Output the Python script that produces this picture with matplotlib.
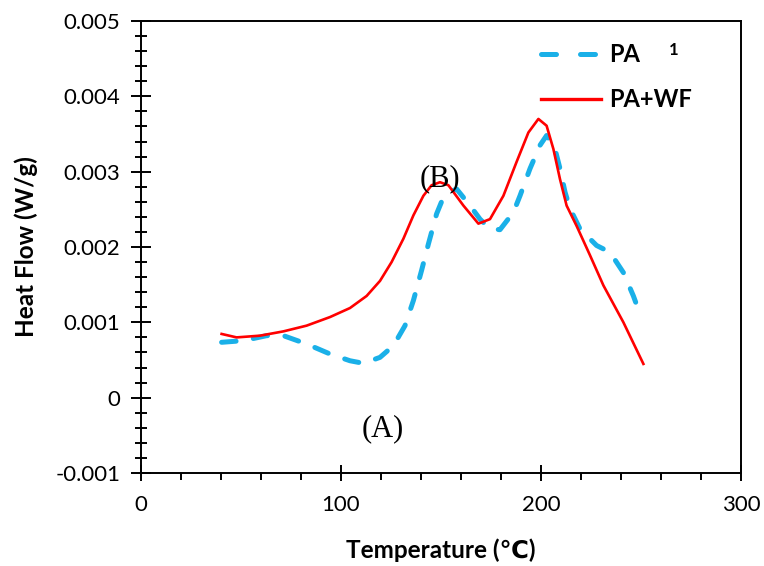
import matplotlib
matplotlib.use("Agg")
import matplotlib.pyplot as plt
from matplotlib.lines import Line2D
from matplotlib.ticker import MultipleLocator, FixedLocator

# PA (dashed blue)
pa_T = [40.3, 51.2, 62.8, 71.2, 82.8, 94.5, 104.5, 111.2, 119.5, 126.2, 132, 136.2, 140.3,
        143.7, 147.8, 151.2, 156.2, 157.8, 164.5, 169.5, 174.5, 179.5, 186.2, 189.5, 194.5,
        199.5, 202.8, 207, 209.5, 212, 214.5, 219.5, 227.8, 234.5, 241.2, 246.2, 249.5]
pa_H = [0.000735, 0.000757, 0.000823, 0.000823, 0.000713, 0.00058, 0.00049, 0.000456,
        0.000535, 0.00069, 0.000956, 0.00129, 0.00169, 0.00204, 0.00244, 0.00266, 0.00275,
        0.00277, 0.00255, 0.00237, 0.00224, 0.00223, 0.00246, 0.00268, 0.00304, 0.00335,
        0.00348, 0.00330, 0.00304, 0.00273, 0.00251, 0.00224, 0.00202, 0.00193, 0.00166,
        0.00135, 0.00111]

# PA+WF (solid red)
wf_T = [40.3, 47.8, 59.5, 71.2, 82.8, 94.5, 104.5, 112.8, 119.5, 125.3, 131.2, 136.2, 141.2,
        145.3, 149.5, 153.7, 158.7, 161.2, 168.7, 174.5, 181.2, 187.8, 193.7, 198.7, 202.8,
        206.2, 209.5, 212.8, 217.8, 224.5, 231.2, 241.2, 251.2]
wf_H = [0.000846, 0.00080, 0.000823, 0.00088, 0.000956, 0.00107, 0.00119, 0.00135, 0.00155,
        0.00180, 0.00211, 0.00242, 0.00268, 0.00282, 0.00286, 0.00282, 0.00264, 0.00255,
        0.00231, 0.00237, 0.00268, 0.00313, 0.00352, 0.00370, 0.00361, 0.00330, 0.00290,
        0.00255, 0.00228, 0.00189, 0.00149, 0.00100, 0.000448]

series_labels = ['PA', 'PA+WF']
x_ticks = [0, 100, 200, 300]
y_ticks = [-0.001, 0, 0.001, 0.002, 0.003, 0.004, 0.005]
y_tick_labels = ["-0.001", "0", "0.001", "0.002", "0.003", "0.004", "0.005"]

BLUE = '#1ab0e8'
RED = '#ff0000'

plt.rcParams['font.family'] = ['Lato', 'DejaVu Sans']

fig = plt.figure(figsize=(7.64, 5.66), dpi=100)
ax = fig.add_axes([141/764, 93/566, 600/764, 452/566])

ax.plot(pa_T, pa_H, color=BLUE, lw=3.6, linestyle=(0, (2.9, 3.5)),
        dash_capstyle='round', solid_joinstyle='round')
ax.plot(wf_T, wf_H, color=RED, lw=1.9, solid_joinstyle='round')

ax.set_xlim(0, 300)
ax.set_ylim(-0.001, 0.005)
ax.xaxis.set_major_locator(FixedLocator(x_ticks))
ax.xaxis.set_minor_locator(MultipleLocator(20))
ax.yaxis.set_major_locator(FixedLocator(y_ticks))
ax.set_yticklabels(y_tick_labels)
ax.yaxis.set_minor_locator(MultipleLocator(0.0002))

for s in ax.spines.values():
    s.set_linewidth(1.4)
    s.set_color('black')

ax.tick_params(axis='both', which='major', direction='inout', length=12, width=1.4,
               labelsize=16, pad=6, colors='black')
ax.tick_params(axis='x', which='minor', direction='out', length=5, width=1.4)
ax.tick_params(axis='y', which='minor', direction='inout', length=9, width=1.4)
ax.tick_params(axis='y', which='major', length=14, pad=8)
ax.tick_params(axis='x', which='major', pad=10)

ax.set_xlabel('Temperature (℃)', fontsize=17.5, fontweight='bold', labelpad=17)
ax.set_ylabel('Heat Flow (W/g)', fontsize=17.5, fontweight='bold', labelpad=12)

h_pa = Line2D([], [], color=BLUE, lw=3.6, linestyle=(0, (3.0, 4.8)), dash_capstyle='round')
h_wf = Line2D([], [], color=RED, lw=2.4)
leg = ax.legend([h_pa, h_wf], series_labels, loc='upper left',
                bbox_to_anchor=(541/764, 1 - 43/566),
                bbox_transform=fig.transFigure, frameon=False,
                prop={'weight': 'bold', 'size': 17}, handlelength=2.55,
                handletextpad=0.35, labelspacing=0.95, borderaxespad=0, borderpad=0)

fig.text(674/764, 1 - 50/566, '1', fontsize=12, fontweight='bold', ha='center', va='center')

ax.text(149.5, 0.00291, '(B)', fontfamily='Liberation Serif', fontsize=22,
        ha='center', va='center')
ax.text(121, -0.00041, '(A)', fontfamily='Liberation Serif', fontsize=22,
        ha='center', va='center')

fig.savefig('out.png', dpi=100)
